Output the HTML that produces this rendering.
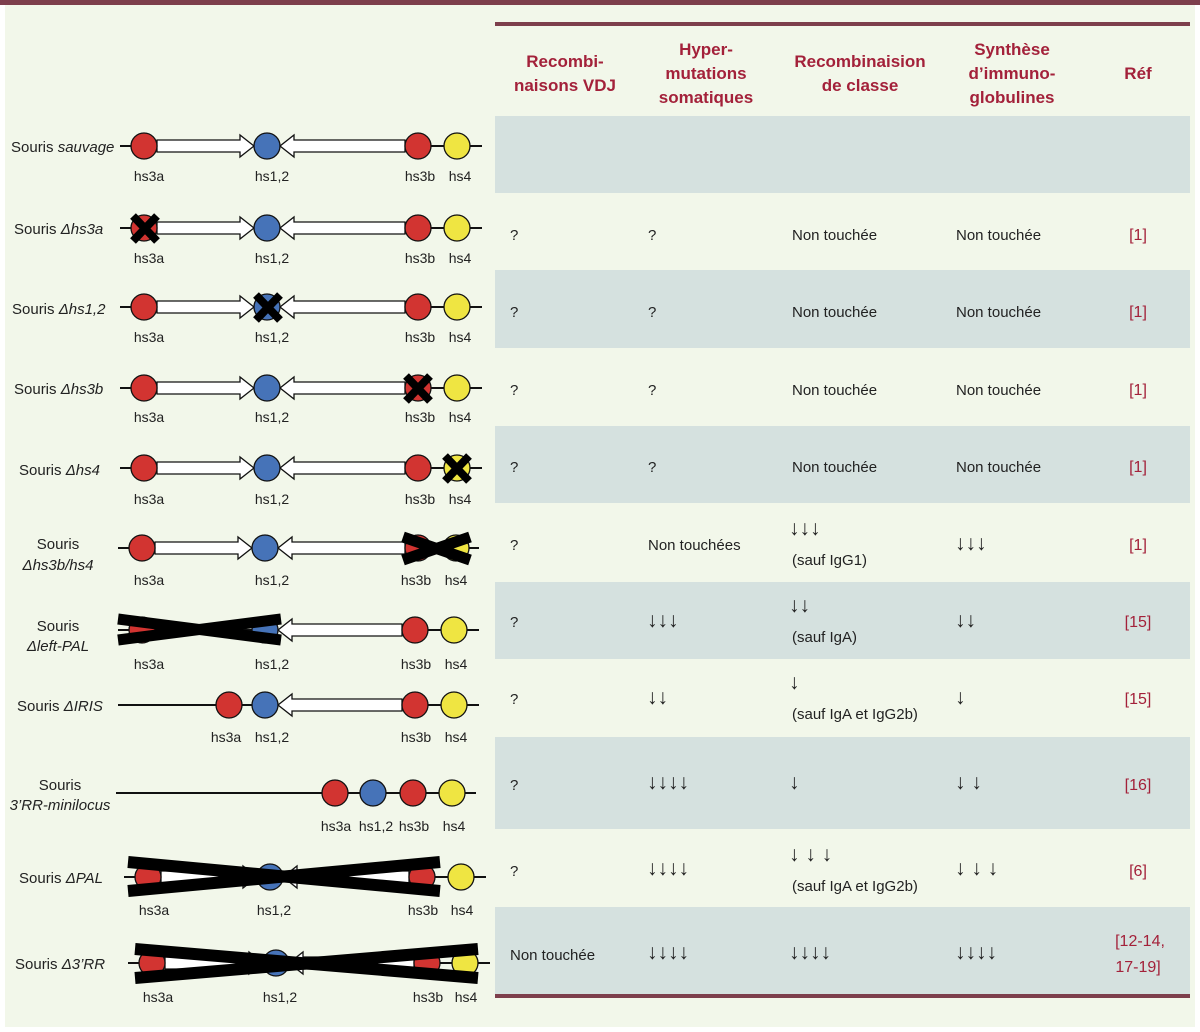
<!DOCTYPE html>
<html><head><meta charset="utf-8"><style>
body{margin:0;background:#fff}
svg{display:block}
text{font-family:"Liberation Sans",sans-serif}
.l{font-size:15px;fill:#222}
.h{font-size:17px;font-weight:bold;fill:#a3213a;text-anchor:middle}
.c{font-size:15px;fill:#222}
.a{font-family:"DejaVu Sans",sans-serif;font-size:21px;fill:#222}
.r{font-size:16px;fill:#a3213a;text-anchor:middle}
.s{font-size:14px;fill:#222;text-anchor:middle}
</style></head><body>
<svg width="1200" height="1032" viewBox="0 0 1200 1032">
<rect width="1200" height="1032" fill="#f2f7ea"/>
<rect x="0" y="0" width="1200" height="5" fill="#7d3f4c"/>
<rect x="0" y="5" width="5" height="1027" fill="#fff"/>
<rect x="1195" y="5" width="5" height="1027" fill="#fff"/>
<rect x="0" y="1027" width="1200" height="5" fill="#fff"/>
<rect x="495" y="22" width="695" height="4" fill="#7d3f4c"/>
<rect x="495" y="994" width="695" height="4" fill="#7d3f4c"/>
<g fill="#d5e1df">
<rect x="495" y="116" width="695" height="77"/>
<rect x="495" y="270" width="695" height="78"/>
<rect x="495" y="426" width="695" height="77"/>
<rect x="495" y="582" width="695" height="77"/>
<rect x="495" y="737" width="695" height="92"/>
<rect x="495" y="907" width="695" height="87"/>
</g>
<text class="h" x="565" y="67">Recombi-</text><text class="h" x="565" y="91">naisons VDJ</text>
<text class="h" x="706" y="55">Hyper-</text><text class="h" x="706" y="79">mutations</text><text class="h" x="706" y="103">somatiques</text>
<text class="h" x="860" y="67">Recombinaision</text><text class="h" x="860" y="91">de classe</text>
<text class="h" x="1012" y="55">Synthèse</text><text class="h" x="1012" y="79">d’immuno-</text><text class="h" x="1012" y="103">globulines</text>
<text class="h" x="1138" y="79">Réf</text>

<g stroke="#111" stroke-width="1.3">
<line x1="120" y1="146" x2="482" y2="146" stroke-width="2"/>
<polygon fill="#fff" points="157,140 240,140 240,135 254,146 240,157 240,152 157,152"/>
<polygon fill="#fff" points="405,140 294,140 294,135 280,146 294,157 294,152 405,152"/>
<circle cx="144" cy="146" r="13" fill="#d23431"/><circle cx="267" cy="146" r="13" fill="#4673b8"/><circle cx="418" cy="146" r="13" fill="#d23431"/><circle cx="457" cy="146" r="13" fill="#efe542"/>
<line x1="120" y1="228" x2="482" y2="228" stroke-width="2"/>
<polygon fill="#fff" points="157,222 240,222 240,217 254,228 240,239 240,234 157,234"/>
<polygon fill="#fff" points="405,222 294,222 294,217 280,228 294,239 294,234 405,234"/>
<circle cx="144" cy="228" r="13" fill="#d23431"/><circle cx="267" cy="228" r="13" fill="#4673b8"/><circle cx="418" cy="228" r="13" fill="#d23431"/><circle cx="457" cy="228" r="13" fill="#efe542"/>
<line x1="120" y1="307" x2="482" y2="307" stroke-width="2"/>
<polygon fill="#fff" points="157,301 240,301 240,296 254,307 240,318 240,313 157,313"/>
<polygon fill="#fff" points="405,301 294,301 294,296 280,307 294,318 294,313 405,313"/>
<circle cx="144" cy="307" r="13" fill="#d23431"/><circle cx="267" cy="307" r="13" fill="#4673b8"/><circle cx="418" cy="307" r="13" fill="#d23431"/><circle cx="457" cy="307" r="13" fill="#efe542"/>
<line x1="120" y1="388" x2="482" y2="388" stroke-width="2"/>
<polygon fill="#fff" points="157,382 240,382 240,377 254,388 240,399 240,394 157,394"/>
<polygon fill="#fff" points="405,382 294,382 294,377 280,388 294,399 294,394 405,394"/>
<circle cx="144" cy="388" r="13" fill="#d23431"/><circle cx="267" cy="388" r="13" fill="#4673b8"/><circle cx="418" cy="388" r="13" fill="#d23431"/><circle cx="457" cy="388" r="13" fill="#efe542"/>
<line x1="120" y1="468" x2="482" y2="468" stroke-width="2"/>
<polygon fill="#fff" points="157,462 240,462 240,457 254,468 240,479 240,474 157,474"/>
<polygon fill="#fff" points="405,462 294,462 294,457 280,468 294,479 294,474 405,474"/>
<circle cx="144" cy="468" r="13" fill="#d23431"/><circle cx="267" cy="468" r="13" fill="#4673b8"/><circle cx="418" cy="468" r="13" fill="#d23431"/><circle cx="457" cy="468" r="13" fill="#efe542"/>
<line x1="118" y1="548" x2="479" y2="548" stroke-width="2"/>
<polygon fill="#fff" points="155,542 238,542 238,537 252,548 238,559 238,554 155,554"/>
<polygon fill="#fff" points="405,542 292,542 292,537 278,548 292,559 292,554 405,554"/>
<circle cx="142" cy="548" r="13" fill="#d23431"/><circle cx="265" cy="548" r="13" fill="#4673b8"/><circle cx="418" cy="548" r="13" fill="#d23431"/><circle cx="456" cy="548" r="13" fill="#efe542"/>
<line x1="118" y1="630" x2="479" y2="630" stroke-width="2"/>
<polygon fill="#fff" points="402,624 292,624 292,619 278,630 292,641 292,636 402,636"/>
<circle cx="142" cy="630" r="13" fill="#d23431"/><circle cx="265" cy="630" r="13" fill="#4673b8"/><circle cx="415" cy="630" r="13" fill="#d23431"/><circle cx="454" cy="630" r="13" fill="#efe542"/>
<line x1="118" y1="705" x2="479" y2="705" stroke-width="2"/>
<polygon fill="#fff" points="402,699 292,699 292,694 278,705 292,716 292,711 402,711"/>
<circle cx="229" cy="705" r="13" fill="#d23431"/><circle cx="265" cy="705" r="13" fill="#4673b8"/><circle cx="415" cy="705" r="13" fill="#d23431"/><circle cx="454" cy="705" r="13" fill="#efe542"/>
<line x1="116" y1="793" x2="476" y2="793" stroke-width="2"/>
<circle cx="335" cy="793" r="13" fill="#d23431"/><circle cx="373" cy="793" r="13" fill="#4673b8"/><circle cx="413" cy="793" r="13" fill="#d23431"/><circle cx="452" cy="793" r="13" fill="#efe542"/>
<line x1="124" y1="877" x2="486" y2="877" stroke-width="2"/>
<polygon fill="#fff" points="161,871 243,871 243,866 257,877 243,888 243,883 161,883"/>
<polygon fill="#fff" points="409,871 297,871 297,866 283,877 297,888 297,883 409,883"/>
<circle cx="148" cy="877" r="13" fill="#d23431"/><circle cx="270" cy="877" r="13" fill="#4673b8"/><circle cx="422" cy="877" r="13" fill="#d23431"/><circle cx="461" cy="877" r="13" fill="#efe542"/>
<line x1="128" y1="963" x2="490" y2="963" stroke-width="2"/>
<polygon fill="#fff" points="165,957 249,957 249,952 263,963 249,974 249,969 165,969"/>
<polygon fill="#fff" points="414,957 303,957 303,952 289,963 303,974 303,969 414,969"/>
<circle cx="152" cy="963" r="13" fill="#d23431"/><circle cx="276" cy="963" r="13" fill="#4673b8"/><circle cx="427" cy="963" r="13" fill="#d23431"/><circle cx="465" cy="963" r="13" fill="#efe542"/>
</g>
<g stroke="#000" stroke-linecap="butt">
<line x1="133" y1="216" x2="157" y2="241" stroke-width="8"/><line x1="157" y1="216" x2="133" y2="241" stroke-width="8"/>
<line x1="256" y1="295" x2="280" y2="320" stroke-width="8"/><line x1="280" y1="295" x2="256" y2="320" stroke-width="8"/>
<line x1="406" y1="376" x2="430" y2="401" stroke-width="8"/><line x1="430" y1="376" x2="406" y2="401" stroke-width="8"/>
<line x1="445" y1="456" x2="469" y2="481" stroke-width="8"/><line x1="469" y1="456" x2="445" y2="481" stroke-width="8"/>
<line x1="403" y1="537" x2="470" y2="560" stroke-width="11"/><line x1="403" y1="560" x2="470" y2="537" stroke-width="11"/>
<line x1="118" y1="619" x2="281" y2="640" stroke-width="11"/><line x1="118" y1="640" x2="281" y2="619" stroke-width="11"/>
<line x1="128" y1="862" x2="440" y2="891" stroke-width="12"/><line x1="128" y1="891" x2="440" y2="862" stroke-width="12"/>
<line x1="135" y1="949" x2="478" y2="978" stroke-width="12"/><line x1="135" y1="978" x2="478" y2="949" stroke-width="12"/>
</g>
<g>
<text class="s" x="149" y="181">hs3a</text><text class="s" x="272" y="181">hs1,2</text><text class="s" x="420" y="181">hs3b</text><text class="s" x="460" y="181">hs4</text>
<text class="s" x="149" y="263">hs3a</text><text class="s" x="272" y="263">hs1,2</text><text class="s" x="420" y="263">hs3b</text><text class="s" x="460" y="263">hs4</text>
<text class="s" x="149" y="342">hs3a</text><text class="s" x="272" y="342">hs1,2</text><text class="s" x="420" y="342">hs3b</text><text class="s" x="460" y="342">hs4</text>
<text class="s" x="149" y="422">hs3a</text><text class="s" x="272" y="422">hs1,2</text><text class="s" x="420" y="422">hs3b</text><text class="s" x="460" y="422">hs4</text>
<text class="s" x="149" y="504">hs3a</text><text class="s" x="272" y="504">hs1,2</text><text class="s" x="420" y="504">hs3b</text><text class="s" x="460" y="504">hs4</text>
<text class="s" x="149" y="585">hs3a</text><text class="s" x="272" y="585">hs1,2</text><text class="s" x="416" y="585">hs3b</text><text class="s" x="456" y="585">hs4</text>
<text class="s" x="149" y="669">hs3a</text><text class="s" x="272" y="669">hs1,2</text><text class="s" x="416" y="669">hs3b</text><text class="s" x="456" y="669">hs4</text>
<text class="s" x="226" y="742">hs3a</text><text class="s" x="272" y="742">hs1,2</text><text class="s" x="416" y="742">hs3b</text><text class="s" x="456" y="742">hs4</text>
<text class="s" x="336" y="831">hs3a</text><text class="s" x="376" y="831">hs1,2</text><text class="s" x="414" y="831">hs3b</text><text class="s" x="454" y="831">hs4</text>
<text class="s" x="154" y="915">hs3a</text><text class="s" x="274" y="915">hs1,2</text><text class="s" x="423" y="915">hs3b</text><text class="s" x="462" y="915">hs4</text>
<text class="s" x="158" y="1002">hs3a</text><text class="s" x="280" y="1002">hs1,2</text><text class="s" x="428" y="1002">hs3b</text><text class="s" x="466" y="1002">hs4</text>
</g>
<g class="l">
<text x="11" y="152">Souris <tspan font-style="italic">sauvage</tspan></text>
<text x="14" y="234">Souris <tspan font-style="italic">Δhs3a</tspan></text>
<text x="12" y="314">Souris <tspan font-style="italic">Δhs1,2</tspan></text>
<text x="14" y="394">Souris <tspan font-style="italic">Δhs3b</tspan></text>
<text x="19" y="475">Souris <tspan font-style="italic">Δhs4</tspan></text>
<text x="58" y="549" text-anchor="middle">Souris</text><text x="58" y="570" text-anchor="middle" font-style="italic">Δhs3b/hs4</text>
<text x="58" y="631" text-anchor="middle">Souris</text><text x="58" y="651" text-anchor="middle" font-style="italic">Δleft-PAL</text>
<text x="17" y="711">Souris <tspan font-style="italic">ΔIRIS</tspan></text>
<text x="60" y="790" text-anchor="middle">Souris</text><text x="60" y="810" text-anchor="middle" font-style="italic">3’RR-minilocus</text>
<text x="19" y="883">Souris <tspan font-style="italic">ΔPAL</tspan></text>
<text x="15" y="969">Souris <tspan font-style="italic">Δ3’RR</tspan></text>
</g>
<g class="c">
<text x="510" y="240">?</text><text x="648" y="240">?</text><text x="792" y="240">Non touchée</text><text x="956" y="240">Non touchée</text>
<text x="510" y="317">?</text><text x="648" y="317">?</text><text x="792" y="317">Non touchée</text><text x="956" y="317">Non touchée</text>
<text x="510" y="395">?</text><text x="648" y="395">?</text><text x="792" y="395">Non touchée</text><text x="956" y="395">Non touchée</text>
<text x="510" y="472">?</text><text x="648" y="472">?</text><text x="792" y="472">Non touchée</text><text x="956" y="472">Non touchée</text>
<text x="510" y="550">?</text><text x="648" y="550">Non touchées</text><text x="792" y="565">(sauf IgG1)</text>
<text x="510" y="627">?</text><text x="792" y="642">(sauf IgA)</text>
<text x="510" y="704">?</text><text x="792" y="719">(sauf IgA et IgG2b)</text>
<text x="510" y="790">?</text>
<text x="510" y="876">?</text><text x="792" y="891">(sauf IgA et IgG2b)</text>
<text x="510" y="960">Non touchée</text>
</g>
<g class="a">
<text x="789" y="535">↓↓↓</text><text x="955" y="550">↓↓↓</text>
<text x="647" y="627">↓↓↓</text><text x="789" y="612">↓↓</text><text x="955" y="627">↓↓</text>
<text x="647" y="704">↓↓</text><text x="789" y="689">↓</text><text x="955" y="704">↓</text>
<text x="647" y="789">↓↓↓↓</text><text x="789" y="789">↓</text><text x="955" y="789">↓ ↓</text>
<text x="647" y="875">↓↓↓↓</text><text x="789" y="861">↓ ↓ ↓</text><text x="955" y="875">↓ ↓ ↓</text>
<text x="647" y="959">↓↓↓↓</text><text x="789" y="959">↓↓↓↓</text><text x="955" y="959">↓↓↓↓</text>
</g>
<g class="r">
<text x="1138" y="240">[1]</text><text x="1138" y="317">[1]</text><text x="1138" y="395">[1]</text><text x="1138" y="472">[1]</text><text x="1138" y="550">[1]</text>
<text x="1138" y="627">[15]</text><text x="1138" y="704">[15]</text><text x="1138" y="790">[16]</text><text x="1138" y="876">[6]</text>
<text x="1140" y="946">[12-14,</text><text x="1138" y="972">17-19]</text>
</g>
</svg>
</body></html>
